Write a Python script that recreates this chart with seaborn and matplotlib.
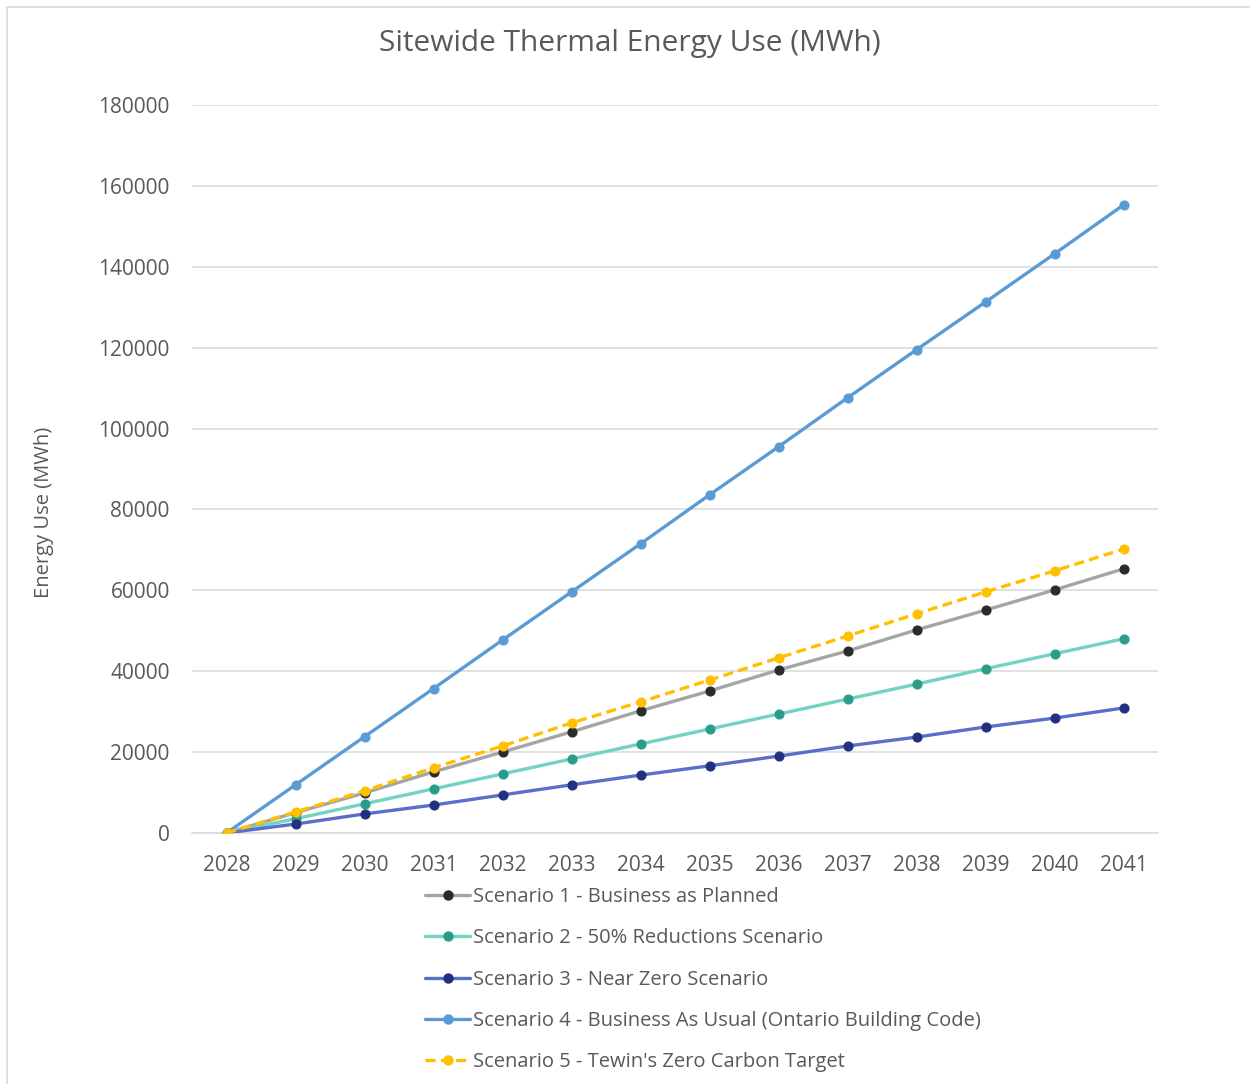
import matplotlib
matplotlib.use("Agg")
import matplotlib.pyplot as plt
from matplotlib.lines import Line2D
from matplotlib.patches import Rectangle
import seaborn as sns
import pandas as pd

years = list(range(2028, 2042))

scenario_1 = [0, 5000, 9900, 15100, 20000, 25000, 30200, 35100, 40300, 45000, 50200, 55100, 60100, 65300]
scenario_2 = [0, 3500, 7200, 10900, 14600, 18300, 22000, 25700, 29400, 33100, 36800, 40600, 44300, 48000]
scenario_3 = [0, 2200, 4700, 6900, 9400, 11900, 14300, 16600, 19000, 21500, 23700, 26200, 28400, 30900]
scenario_4 = [0, 11900, 23800, 35700, 47700, 59600, 71500, 83600, 95500, 107600, 119500, 131300, 143200, 155300]
scenario_5 = [0, 5200, 10400, 16100, 21500, 27200, 32400, 37800, 43300, 48700, 54200, 59600, 64800, 70200]

labels = [
    "Scenario 1 - Business as Planned",
    "Scenario 2 - 50% Reductions Scenario",
    "Scenario 3 - Near Zero Scenario",
    "Scenario 4 - Business As Usual (Ontario Building Code)",
    "Scenario 5 - Tewin's Zero Carbon Target",
]
series = [scenario_1, scenario_2, scenario_3, scenario_4, scenario_5]

line_colors = ["#A5A5A5", "#72D3C3", "#5B6EC9", "#5B9BD5", "#FFC000"]
marker_colors = ["#2B2B2B", "#2A9D8A", "#22317F", "#5B9BD5", "#FFC000"]
dashed = [False, False, False, False, True]

sns.set_style("white")
plt.rcParams["font.family"] = ["Open Sans", "DejaVu Sans"]
text_color = "#595959"

fig = plt.figure(figsize=(12.5, 10.84), dpi=100)
ax = fig.add_axes([0.1536, 0.2316, 0.7728, 0.6715])

# outer chart frame (top and left edges)
fig.patches.append(Rectangle((7 / 1250, -0.1), 1.2, 1 - 7 / 1084 + 0.1,
                             transform=fig.transFigure, fill=False,
                             edgecolor="#D9D9D9", linewidth=1.2, zorder=0))

frames = []
for lab, vals in zip(labels, series):
    frames.append(pd.DataFrame({"Year": years, "Energy": vals, "Scenario": lab}))
df = pd.concat(frames, ignore_index=True)

handles = []
for lab, lc, mc, dsh in zip(labels, line_colors, marker_colors, dashed):
    sub = df[df["Scenario"] == lab]
    ls = (0, (3, 1.6)) if dsh else "-"
    sns.lineplot(data=sub, x="Year", y="Energy", ax=ax, color=lc, linewidth=2.4,
                 linestyle=ls, marker="o", markersize=6.5, markerfacecolor=mc,
                 markeredgecolor=mc, markeredgewidth=0.8, legend=False, zorder=3)
    handles.append(Line2D([0], [0], color=lc, linewidth=2.4, linestyle=ls,
                          marker="o", markersize=6.5, markerfacecolor=mc,
                          markeredgecolor=mc))

ax.set_xlim(2027.5, 2041.5)
ax.set_ylim(0, 180000)
ax.set_xticks(years)
ax.set_xticklabels([str(y) for y in years])
ax.set_yticks(range(0, 180001, 20000))
ax.yaxis.grid(True, color="#D9D9D9", linewidth=1.1)
ax.xaxis.grid(False)
for s in ["top", "right", "left"]:
    ax.spines[s].set_visible(False)
ax.spines["bottom"].set_color("#D9D9D9")
ax.spines["bottom"].set_linewidth(1.1)
ax.tick_params(axis="both", length=0, labelsize=15, labelcolor=text_color)
ax.tick_params(axis="x", pad=16)
ax.tick_params(axis="y", pad=16)
ax.set_xlabel("")
ax.set_ylabel("Energy Use (MWh)", fontsize=14.5, color=text_color)
ax.yaxis.set_label_coords(-0.143, 0.44)

fig.text(0.504, 1 - 44 / 1084, "Sitewide Thermal Energy Use (MWh)",
         ha="center", va="center", fontsize=21.5, color=text_color)

fig.legend(handles, labels, loc="upper left", bbox_to_anchor=(0.34, 1 - 887 / 1084),
           frameon=False, fontsize=14.5, labelcolor=text_color, handlelength=2.25,
           handletextpad=0.15, labelspacing=1.06, borderpad=0, borderaxespad=0)

fig.savefig("out.png", dpi=100, facecolor="white")
